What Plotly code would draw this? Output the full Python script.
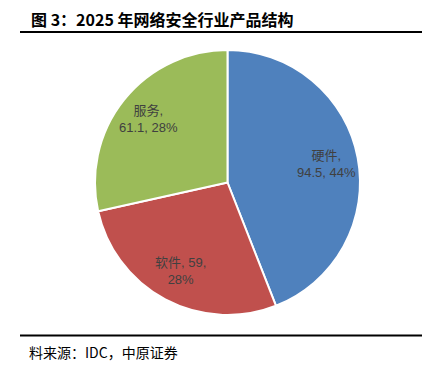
import math
import plotly.graph_objects as go

W, H = 431, 374

labels = ["硬件", "软件", "服务"]
values = [94.5, 59, 61.1]
pct_labels = ["44%", "28%", "28%"]
colors = ["#4F81BD", "#C0504D", "#9BBB59"]
title_text = "图 3：2025 年网络安全行业产品结构"
source_text = "料来源：IDC，中原证券"

label_text = [
    f"{labels[0]},<br>{values[0]}, {pct_labels[0]}",
    f"{labels[1]}, {values[1]:g},<br>{pct_labels[1]}",
    f"{labels[2]},<br>{values[2]}, {pct_labels[2]}",
]

def px(x):
    return x / W

def py(y):
    return 1 - y / H

# pie box in pixels
PX0, PX1, PY0, PY1 = 95, 360, 49, 316
CX, CY = (PX0 + PX1) / 2, (PY0 + PY1) / 2
R = (PX1 - PX0) / 2
LABEL_R = 0.76

fig = go.Figure(go.Pie(
    labels=labels,
    values=values,
    textinfo="none",
    sort=False,
    direction="clockwise",
    rotation=0,
    marker=dict(colors=colors, line=dict(color="white", width=2)),
    domain=dict(x=[px(PX0), px(PX1)], y=[py(PY1), py(PY0)]),
    showlegend=False,
    hoverinfo="label+value+percent",
))

annotations = [
    dict(text=title_text, xref="paper", yref="paper", x=px(29), y=py(19), xanchor="left", yanchor="middle",
         showarrow=False, font=dict(family="Noto Sans CJK SC", size=16, color="black", weight="bold")),
    dict(text=source_text, xref="paper", yref="paper", x=px(27), y=py(352), xanchor="left", yanchor="middle",
         showarrow=False, font=dict(family="Noto Sans CJK SC", size=14, color="black")),
]

total = sum(values)
cum = 0.0
for v, t in zip(values, label_text):
    mid = (cum + v / 2) / total * 2 * math.pi
    cum += v
    lx = CX + LABEL_R * R * math.sin(mid)
    ly = CY - LABEL_R * R * math.cos(mid)
    annotations.append(dict(
        text=t, xref="paper", yref="paper", x=px(lx), y=py(ly),
        xanchor="center", yanchor="middle", showarrow=False, align="center",
        font=dict(family="Liberation Sans, Noto Sans CJK SC", size=13, color="#404040"),
    ))

fig.update_layout(
    width=W, height=H,
    margin=dict(l=0, r=0, t=0, b=0),
    paper_bgcolor="white",
    plot_bgcolor="white",
    shapes=[
        dict(type="line", xref="paper", yref="paper", x0=px(20), x1=px(422), y0=py(32), y1=py(32),
             line=dict(color="black", width=2)),
        dict(type="line", xref="paper", yref="paper", x0=px(20), x1=px(422), y0=py(335.5), y1=py(335.5),
             line=dict(color="black", width=2)),
    ],
    annotations=annotations,
)

fig.write_html("out.html", config={"displayModeBar": False},
               post_script="document.body.style.margin='0';")
